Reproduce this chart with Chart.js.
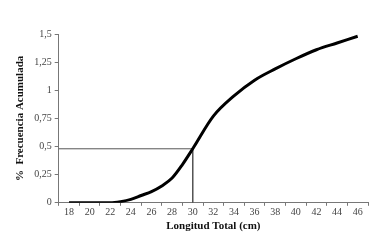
<!DOCTYPE html>
<html>
<head>
<meta charset="utf-8">
<script src="https://cdn.jsdelivr.net/npm/chart.js@4"></script>
<style>
  html, body { margin: 0; padding: 0; background: #fff; }
  #wrap { width: 384px; height: 247px; }
</style>
</head>
<body>
<div id="wrap"><canvas id="chart"></canvas></div>
<script>
// data
var lengths = [18, 20, 22, 23, 24, 25, 26, 27, 28, 29, 30, 32, 34, 36, 38, 40, 42, 44, 46];
var cumFreq = [0, 0, 0, 0.01, 0.03, 0.065, 0.1, 0.15, 0.22, 0.34, 0.48, 0.77, 0.95, 1.09, 1.19, 1.28, 1.36, 1.42, 1.48];
var guideX = [17, 30, 30];
var guideY = [0.48, 0.48, 0];

var axisGray = '#777';
var serif = "'Liberation Serif', 'DejaVu Serif', serif";

var ctx = document.getElementById('chart').getContext('2d');
var chart = new Chart(ctx, {
    type: 'line',
    data: {
        datasets: [
            {
                data: lengths.map(function(x, i) { return { x: x, y: cumFreq[i] }; }),
                borderColor: '#000',
                borderWidth: 3,
                pointRadius: 0,
                tension: 0.4,
                cubicInterpolationMode: 'monotone',
            },
            {
                data: guideX.map(function(x, i) { return { x: x, y: guideY[i] }; }),
                borderColor: '#555',
                borderWidth: 1,
                pointRadius: 0,
                tension: 0,
            },
        ],
    },
    options: {
        responsive: true,
        maintainAspectRatio: false,
        animation: false,
        layout: { padding: { left: 10, right: 16, top: 34, bottom: 14 } },
        plugins: { legend: { display: false }, tooltip: { enabled: false } },
        scales: {
            x: {
                type: 'linear',
                min: 17,
                max: 47,
                border: { color: axisGray },
                grid: {
                    drawOnChartArea: false,
                    tickLength: 3,
                    tickColor: function(c) { return c.tick && c.tick.value % 2 ? axisGray : 'transparent'; },
                },
                ticks: {
                    stepSize: 1,
                    autoSkip: false,
                    maxRotation: 0,
                    padding: 1,
                    color: '#444',
                    font: { family: serif, size: 10 },
                    callback: function(value) { return value % 2 === 0 ? value : ''; },
                },
                title: {
                    display: true,
                    text: 'Longitud Total (cm)',
                    color: '#111',
                    font: { family: serif, size: 11, weight: 'bold' },
                    padding: { top: 0, bottom: 0 },
                },
            },
            y: {
                min: 0,
                max: 1.5,
                border: { color: axisGray },
                grid: { drawOnChartArea: false, tickLength: 4, tickColor: axisGray },
                ticks: {
                    stepSize: 0.25,
                    padding: 3,
                    color: '#444',
                    font: { family: serif, size: 10 },
                    callback: function(value) { return String(value).replace('.', ','); },
                },
                title: {
                    display: true,
                    text: '%  Frecuencia Acumulada',
                    color: '#111',
                    font: { family: serif, size: 11, weight: 'bold' },
                },
            },
        },
    },
});
</script>
</body>
</html>
